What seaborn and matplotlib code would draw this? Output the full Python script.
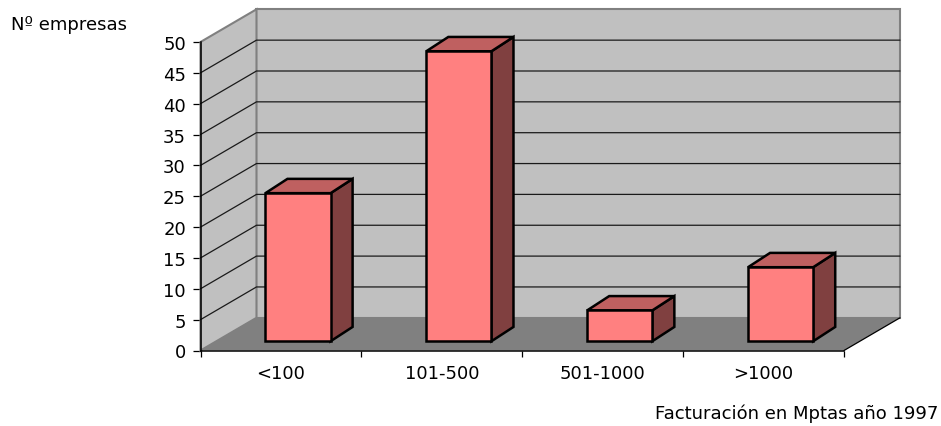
import matplotlib
matplotlib.use("Agg")
import matplotlib.pyplot as plt
from matplotlib.patches import Polygon
import pandas as pd
import seaborn as sns

categories = ["<100", "101-500", "501-1000", ">1000"]
empresas = [24, 47, 5, 12]
y_ticks = [0, 5, 10, 15, 20, 25, 30, 35, 40, 45, 50]
x_title = "Facturación en Mptas año 1997"
y_title = "Nº empresas"

# depth of the pseudo-3D box and of the bars, in data units
DX, DY = 0.348, 5.3
BAR_OFF_X, BAR_OFF_Y = 0.106, 1.5
BAR_DEPTH_X, BAR_DEPTH_Y = 0.137, 2.32
BAR_W = 0.405

WALL = "#C0C0C0"; FLOOR = "#808080"; EDGE = "#808080"
FACE = "#FF8080"; TOP = "#BF6060"; SIDE = "#804040"
BAR_LW = 1.8
FS = 13

sns.set_theme(style="white")
plt.rcParams["font.family"] = ["DejaVu Sans"]
W, H = 941, 427
fig = plt.figure(figsize=(W / 100, H / 100), dpi=100)
ax = fig.add_axes([200.5 / W, (H - 351.5) / H, (844 - 200.5) / W, (351.5 - 43) / H])

df = pd.DataFrame({"cat": categories, "n": empresas})
sns.barplot(data=df, x="cat", y="n", color=FACE, saturation=1, width=BAR_W,
            edgecolor="black", linewidth=BAR_LW, ax=ax, zorder=5)
bars = list(ax.patches)
ax.set_xlim(-0.5, 3.5)
ax.set_ylim(0, 50)
ax.patch.set_visible(False)

XL, XR, YT = -0.5, 3.5, 50


def proj(x, y, d):
    return (x + d * DX, y + d * DY)


def poly(points, zorder, fc, ec="none", lw=0, **kw):
    ax.add_patch(Polygon(points, closed=True, facecolor=fc, edgecolor=ec, linewidth=lw,
                         clip_on=False, zorder=zorder, joinstyle="miter", **kw))


# back wall, left wall, floor
poly([proj(XL, 0, 1), proj(XR, 0, 1), proj(XR, YT, 1), proj(XL, YT, 1)], 1, WALL, EDGE, 1.5)
poly([proj(XL, 0, 0), proj(XL, 0, 1), proj(XL, YT, 1), proj(XL, YT, 0)], 1, WALL, EDGE, 1.5)
poly([proj(XL, 0, 0), proj(XR, 0, 0), proj(XR, 0, 1), proj(XL, 0, 1)], 1.5, FLOOR)

# gridlines running along the left wall and the back wall
for v in y_ticks[1:-1]:
    a, b, c = proj(XL, v, 0), proj(XL, v, 1), proj(XR, v, 1)
    ax.plot([a[0], b[0], c[0]], [a[1], b[1], c[1]], color="#1a1a1a", lw=0.9,
            clip_on=False, zorder=2, solid_joinstyle="miter")
a, b = proj(XR, 0, 0), proj(XR, 0, 1)
ax.plot([a[0], b[0]], [a[1], b[1]], color="black", lw=0.9, clip_on=False, zorder=2)

# bars: move the front faces into the box and add side and top faces
for bar in bars:
    x0 = bar.get_x()
    w = bar.get_width()
    v = bar.get_height()
    bar.set_x(x0 + BAR_OFF_X)
    bar.set_y(BAR_OFF_Y)
    bar.set_clip_on(False)
    f0 = BAR_OFF_Y
    dx, dy = BAR_DEPTH_X, BAR_DEPTH_Y
    xl = x0 + BAR_OFF_X
    xr = xl + w
    poly([(xr, f0), (xr + dx, f0 + dy), (xr + dx, f0 + v + dy), (xr, f0 + v)], 4, SIDE, "black", BAR_LW)
    poly([(xl, f0 + v), (xr, f0 + v), (xr + dx, f0 + v + dy), (xl + dx, f0 + v + dy)], 4, TOP, "black", BAR_LW)

sns.despine(ax=ax, top=True, right=True)
for s in ("left", "bottom"):
    ax.spines[s].set_color("black")
    ax.spines[s].set_linewidth(1.1)
    ax.spines[s].set_zorder(6)

ax.set_yticks(y_ticks)
ax.tick_params(axis="y", which="major", left=True, length=5.5, width=0.9, color="black",
               labelsize=FS, labelcolor="black", pad=5)
ax.set_xticks([-0.5, 0.5, 1.5, 2.5, 3.5])
ax.set_xticklabels([])
ax.set_xticks([0, 1, 2, 3], labels=categories, minor=True)
ax.tick_params(axis="x", which="major", bottom=True, length=4.5, width=0.9, color="black")
ax.tick_params(axis="x", which="minor", bottom=False, length=0, labelsize=FS,
               labelcolor="black", pad=10)

ax.set_xlabel(x_title, fontsize=FS, color="black", ha="right", labelpad=0)
ax.xaxis.set_label_coords(938 / W, 22 / H, transform=fig.transFigure)
ax.set_ylabel(y_title, fontsize=FS, color="black", rotation=0, ha="left", va="center")
ax.yaxis.set_label_coords(11 / W, (H - 25) / H, transform=fig.transFigure)

fig.savefig("out.png", dpi=100, facecolor="white")
